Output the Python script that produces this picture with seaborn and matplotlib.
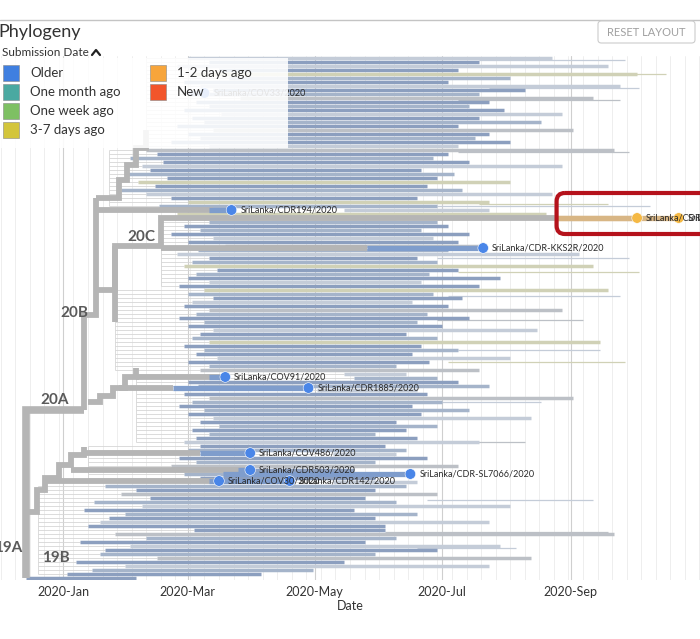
import matplotlib
matplotlib.use("Agg")
import matplotlib.dates as mdates
import matplotlib.pyplot as plt
import numpy as np
import pandas as pd
import seaborn as sns
from matplotlib.lines import Line2D
from matplotlib.patches import FancyBboxPatch, Rectangle

sns.set_style("white")
plt.rcParams["font.family"] = ["Lato", "DejaVu Sans"]

# tip branches, one per row from top to bottom; dates are days after 2020-01-01
tip_start = [60, 70, 55, 75, 62, 80, 58, 66, 72, 60, 85, 64, 70, 58, 76, 62, 68, 55, 72, 60,
             66, 52, 70, 40, 45, 32, 48, 38, 42, 30, 50, 36, 44, 28, 40, 52, 60, 46, 135, 55,
             100, 70, 58, 66, 52, 72, 60, 78, 65, 55, 70, 62, 58, 74, 64, 60, 70, 56, 68, 60,
             72, 62, 58, 70, 64, 56, 68, 60, 72, 66, 62, 70, 58, 68, 64, 74, 60, 70, 66, 135,
             140, 60, 65, 122, 58, 70, 62, 56, 68, 60, 72, 66, 75, 62, 70, 64, 58, 66, 60, 130,
             56, 64, 52, 60, 58, 66, 130, 20, 35, 28, 42, 15, 38, 10, 30, 22, 18, 12, 63, 25,
             40, 8, 32, 20, 18, 45, 6, 30, 14, 2, -18]
tip_end = [235, 200, 262, 190, 276, 215, 185, 268, 222, 200, 255, 205, 195, 212, 240, 200, 230, 190, 245, 205,
           198, 215, 190, 265, 185, 178, 195, 240, 172, 188, 180, 215, 175, 192, 235, 170, 205, 180, 205, 232,
           160, 180, 185, 172, 195, 178, 190, 200, 185, 248, 170, 180, 255, 190, 176, 210, 172, 200, 262, 178,
           192, 168, 185, 240, 175, 195, 170, 182, 228, 165, 180, 258, 172, 190, 168, 215, 176, 160, 200, 165,
           180, 190, 205, 170, 175, 245, 182, 168, 195, 172, 225, 160, 180, 165, 150, 170, 200, 155, 165, 160,
           175, 150, 190, 140, 160, 150, 170, 165, 150, 180, 145, 160, 215, 140, 170, 150, 205, 155, 155, 265,
           160, 145, 210, 180, 150, 225, 135, 205, 120, 95, 35]
tip_tone = [2, 0, 2, 0, 4, 1, 0, 2, 0, 1, 3, 0, 1, 0, 2, 0, 1, 0, 3, 0,
            1, 0, 2, 3, 0, 1, 0, 2, 0, 1, 0, 4, 0, 1, 2, 0, 4, 1, 2, 4,
            3, 1, 0, 1, 0, 2, 0, 3, 1, 2, 0, 1, 4, 0, 1, 0, 2, 0, 4, 1,
            0, 2, 0, 3, 1, 0, 1, 0, 2, 0, 1, 4, 0, 1, 0, 2, 0, 1, 3, 2,
            1, 0, 1, 2, 0, 3, 1, 0, 1, 0, 2, 0, 1, 0, 1, 0, 2, 0, 1, 2,
            0, 1, 3, 0, 1, 0, 2, 1, 0, 3, 0, 1, 2, 0, 1, 0, 2, 0, 0, 3,
            1, 0, 2, 0, 1, 3, 0, 2, 1, 0, 0]
tone_colors = ["#8c9fbf", "#a5b4ca", "#c4ccd8", "#bcc0c6", "#d0d1b6"]

# faint long tip branches
ext_row = [0.5, 4, 7.5, 10.5, 23.5, 36.5, 37, 50, 53.5, 59.5, 65.5, 73, 76, 86, 96, 110.5, 118.5, 122.5]
ext_start = [200, 210, 205, 190, 190, 200, 180, 180, 190, 185, 180, 190, 185, 170, 160, 175, 155, 170]
ext_end = [270, 290, 277, 268, 272, 262, 282, 272, 277, 268, 250, 258, 270, 230, 222, 255, 262, 218]
ext_tone = [2, 4, 2, 3, 3, 4, 2, 2, 4, 2, 3, 2, 4, 2, 3, 2, 3, 2]

# thin internal branches: first row, last row, node date
cluster_first = [0, 23, 41, 58, 79, 97, 107]
cluster_last = [22, 37, 57, 78, 96, 106, 129]
cluster_node = [40, 22, 47, 25, 35, 12, -12]

# thick backbone of the tree (node dates, rows)
backbone = [
    ([-18, -18, 10], [130, 88, 88]),
    ([10, 10, 16, 16], [88, 64.25, 64.25, 35]),
    ([16, 27, 27, 31, 31, 35, 35, 40, 40], [35, 35, 30.5, 30.5, 26.75, 26.75, 22.5, 22.5, 18]),
    ([16, 25, 25, 47, 47, 237], [58, 58, 47, 47, 40, 40]),
    ([25, 25], [47, 66]),
    ([16, 72], [38, 38]),
    ([47, 146], [47.5, 47.5]),
    ([12, 18, 18, 24, 24, 30, 30, 35, 35], [86, 86, 84.5, 84.5, 82.5, 82.5, 79.75, 79.75, 77.5]),
    ([35, 78], [79.75, 79.75]),
    ([27, 53], [82.5, 82.5]),
    ([-18, -12.5, -12.5, -8.5, -8.5, -2, -2, 4, 4, 10, 10],
     [113.5, 113.5, 108, 108, 105, 105, 101.75, 101.75, 99.25, 99.25, 97.25]),
    ([10, 66], [98.75, 98.75]),
    ([4, 90], [103, 103]),
    ([-8.5, 75], [105.75, 105.75]),
]

# Sri Lankan sequences
sl_names = ["SriLanka/COV33/2020", "SriLanka/CDR194/2020", "SriLanka/CDR-KKS2R/2020",
            "SriLanka/CDR1231/2020", "SriLanka/CDR1232/2020", "SriLanka/COV91/2020",
            "SriLanka/CDR1885/2020", "SriLanka/COV486/2020", "SriLanka/CDR503/2020",
            "SriLanka/CDR-SL7066/2020", "SriLanka/COV30/2020", "SriLanka/CDR142/2020"]
sl_date = [68, 81, 202, 276, 296, 78, 118, 90, 90, 167, 75, 109]
sl_row = [8.75, 38, 47.5, 40, 40, 79.75, 82.5, 98.75, 103, 104, 105.75, 105.75]
sl_branch_start = [60, 70, 146, 237, 237, 70, 53, 66, 84, 77, 70, 75]
sl_group = ["Older", "Older", "Older", "1-2 days ago", "1-2 days ago", "Older",
            "Older", "Older", "Older", "Older", "Older", "Older"]

clade_names = ["19A", "19B", "20A", "20B", "20C"]
clade_date = [-33, -10, -11, -1.4, 31]
clade_row = [122.5, 125, 85.5, 63.75, 44.75]

legend_labels = ["Older", "One month ago", "One week ago", "3-7 days ago", "1-2 days ago", "New"]
legend_colors = ["#3f7fe0", "#4aa9a1", "#7ec063", "#d3c53b", "#f7a53b", "#f2552b"]

base = mdates.date2num(pd.Timestamp("2020-01-01"))


def d(days):
    return base + np.asarray(days, dtype=float)


W, H = 700, 639


def fx(px):
    return px / W


def fy(py):
    return 1 - py / H


fig = plt.figure(figsize=(7, 6.39), dpi=100)
ax = fig.add_axes([0, fy(580), 1, (580 - 56) / H])
ax.set_xlim(d(-30.3), d(306.25))
ax.set_ylim(130.5, -0.5)

ax.xaxis.set_major_locator(mdates.MonthLocator(bymonth=[1, 3, 5, 7, 9]))
ax.xaxis.set_major_formatter(mdates.DateFormatter("%Y-%b"))
ax.xaxis.set_minor_locator(mdates.WeekdayLocator(byweekday=mdates.MO))
ax.grid(which="major", axis="x", color="#cfcfcf", lw=0.8)
ax.grid(which="minor", axis="x", color="#ebebeb", lw=0.6)
ax.grid(axis="y", visible=False)
ax.set_axisbelow(True)
ax.tick_params(axis="x", which="both", length=0, pad=4, labelsize=9, labelcolor="#333333")
ax.set_yticks([])
for s in ax.spines.values():
    s.set_visible(False)

# thin internal branches
for first, last, node in zip(cluster_first, cluster_last, cluster_node):
    rows = np.arange(first, last + 1)
    starts = np.array(tip_start[first:last + 1])
    ax.vlines(d(node), first, last, color="#d6d6d6", lw=0.6, zorder=1)
    ax.hlines(rows, d(node), d(starts), color="#d6d6d6", lw=0.6, zorder=1)

# faint long tips and tip branches
ax.hlines(ext_row, d(ext_start), d(ext_end), colors=[tone_colors[t] for t in ext_tone], lw=0.9, zorder=2)
rows = np.arange(len(tip_start))
ax.hlines(rows, d(tip_start), d(tip_end), colors=[tone_colors[t] for t in tip_tone], lw=2.5, zorder=2)

# backbone
for i, (days, rws) in enumerate(backbone):
    ax.plot(d(days), rws, color="#b5b5b5", lw=5.5 if i == 0 else 4.2,
            solid_joinstyle="miter", solid_capstyle="butt", zorder=3)

# coloured ends of Sri Lankan branches
for start, end, row, grp in zip(sl_branch_start, sl_date, sl_row, sl_group):
    col = "#d8b685" if grp == "1-2 days ago" else "#7f9dcc"
    ax.hlines(row, d(start), d(end), color=col, lw=3.8, zorder=4)

sl_df = pd.DataFrame({"date": d(sl_date), "row": sl_row, "group": sl_group})
sns.scatterplot(data=sl_df, x="date", y="row", hue="group", ax=ax, s=58, legend=False,
                palette={"Older": "#4a86e8", "1-2 days ago": "#f5b945"},
                edgecolor="#ffffff", linewidth=0.4, zorder=5)
ax.set_xlabel("Date", fontsize=9, color="#333333", labelpad=2)
ax.set_ylabel("")
for name, day, row in zip(sl_names, sl_date, sl_row):
    ax.text(d(day) + 4.3, row, name, fontsize=6.5, va="center", ha="left", color="#2a2a2a", zorder=6)

for name, day, row in zip(clade_names, clade_date, clade_row):
    ax.text(d(day), row, name, fontsize=11, va="center", ha="left", color="#5a5a5a",
            fontweight="bold", zorder=6, clip_on=False)

# highlight box
ax.add_patch(FancyBboxPatch((d(237.3), 33.75), 77.7, 10.25,
                            boxstyle="round,pad=0,rounding_size=4", mutation_aspect=0.52,
                            fill=False, edgecolor="#b5121b", lw=3, zorder=7, clip_on=False))

# legend panel over the tree
fig.add_artist(Rectangle((fx(0), fy(148)), fx(288), 90 / H, facecolor="white", alpha=0.88,
                         edgecolor="none", zorder=5))
fig.add_artist(Line2D([0, 1], [fy(19.5), fy(19.5)], color="#c4c4c4", lw=1, zorder=6))
fig.text(fx(-2), fy(32), "Phylogeny", fontsize=13, color="#333333", va="center", ha="left", zorder=7)
fig.text(fx(2), fy(52), "Submission Date", fontsize=8.5, color="#333333", va="center", ha="left", zorder=7)
fig.add_artist(Line2D([fx(92), fx(96), fx(100)], [fy(55), fy(50), fy(55)], color="#222222", lw=1.6, zorder=7))
for i, (lab, col) in enumerate(zip(legend_labels, legend_colors)):
    x0 = 3 if i < 4 else 150
    yc = 73 + 19 * (i % 4 if i < 4 else i - 4)
    fig.add_artist(Rectangle((fx(x0), fy(yc + 8)), 16 / W, 16 / H, facecolor=col,
                             edgecolor="#888888", lw=0.4, zorder=7))
    fig.text(fx(x0 + 27), fy(yc), lab, fontsize=9.5, color="#333333", va="center", ha="left", zorder=7)

fig.add_artist(FancyBboxPatch((fx(598), fy(43)), fx(97), 22 / H,
                              boxstyle="round,pad=0,rounding_size=0.005", facecolor="white",
                              edgecolor="#cccccc", lw=0.8, zorder=7))
fig.text(fx(646.5), fy(32), "RESET LAYOUT", fontsize=8, color="#a0a0a0", va="center", ha="center", zorder=8)

fig.savefig("out.png", dpi=100)
